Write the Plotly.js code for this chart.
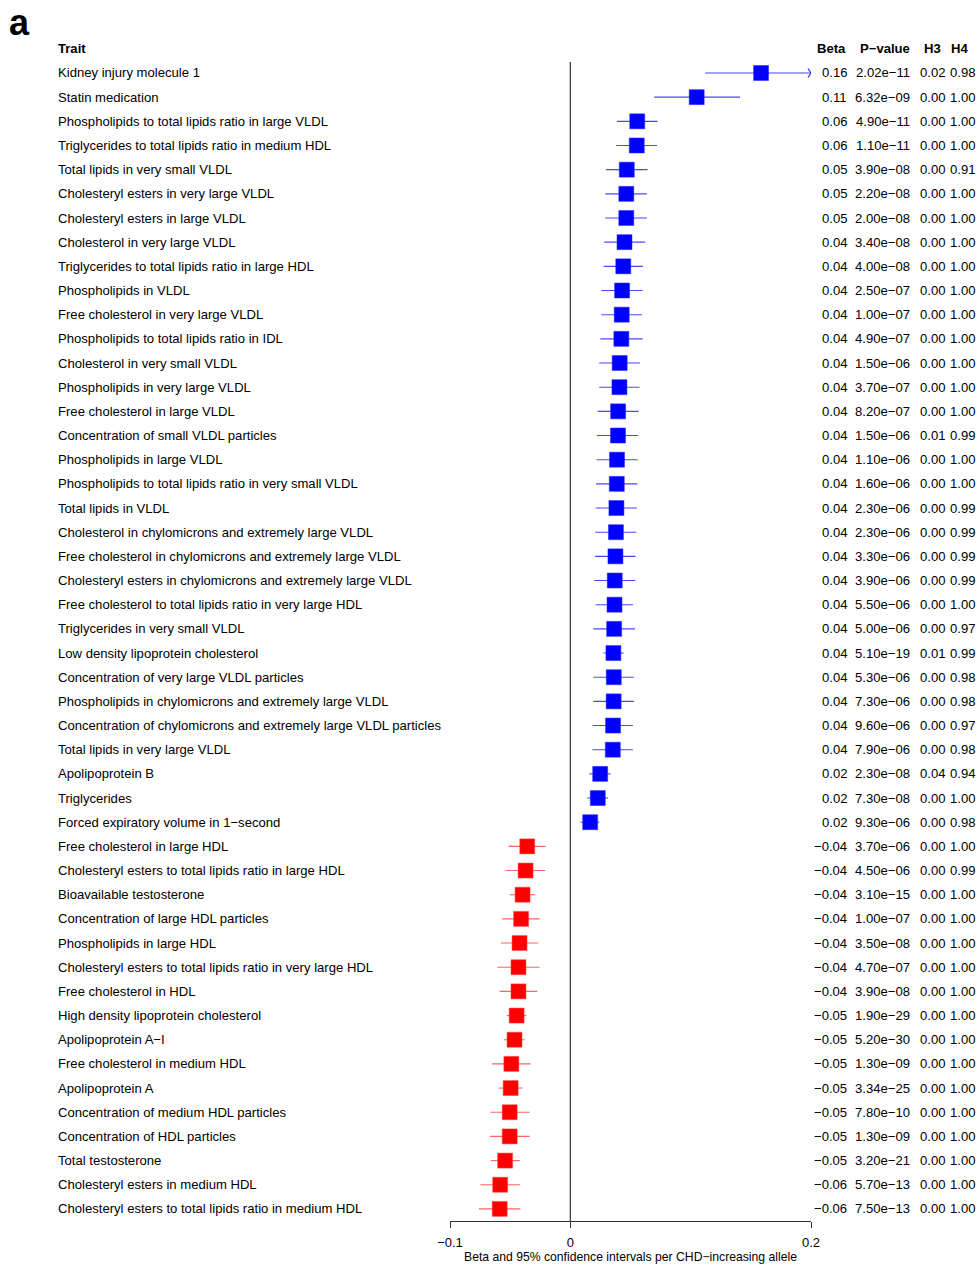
<!DOCTYPE html>
<html>
<head>
<meta charset="utf-8">
<script src="https://cdn.plot.ly/plotly-3.0.1.min.js"></script>
<style>
  html, body { margin: 0; padding: 0; background: #fff; }
  #chart { width: 979px; height: 1264px; }
</style>
</head>
<body>
<div id="chart"></div>
<script>
// ---------------- DATA ----------------
const traits = [
  "Kidney injury molecule 1",
  "Statin medication",
  "Phospholipids to total lipids ratio in large VLDL",
  "Triglycerides to total lipids ratio in medium HDL",
  "Total lipids in very small VLDL",
  "Cholesteryl esters in very large VLDL",
  "Cholesteryl esters in large VLDL",
  "Cholesterol in very large VLDL",
  "Triglycerides to total lipids ratio in large HDL",
  "Phospholipids in VLDL",
  "Free cholesterol in very large VLDL",
  "Phospholipids to total lipids ratio in IDL",
  "Cholesterol in very small VLDL",
  "Phospholipids in very large VLDL",
  "Free cholesterol in large VLDL",
  "Concentration of small VLDL particles",
  "Phospholipids in large VLDL",
  "Phospholipids to total lipids ratio in very small VLDL",
  "Total lipids in VLDL",
  "Cholesterol in chylomicrons and extremely large VLDL",
  "Free cholesterol in chylomicrons and extremely large VLDL",
  "Cholesteryl esters in chylomicrons and extremely large VLDL",
  "Free cholesterol to total lipids ratio in very large HDL",
  "Triglycerides in very small VLDL",
  "Low density lipoprotein cholesterol",
  "Concentration of very large VLDL particles",
  "Phospholipids in chylomicrons and extremely large VLDL",
  "Concentration of chylomicrons and extremely large VLDL particles",
  "Total lipids in very large VLDL",
  "Apolipoprotein B",
  "Triglycerides",
  "Forced expiratory volume in 1\u2212second",
  "Free cholesterol in large HDL",
  "Cholesteryl esters to total lipids ratio in large HDL",
  "Bioavailable testosterone",
  "Concentration of large HDL particles",
  "Phospholipids in large HDL",
  "Cholesteryl esters to total lipids ratio in very large HDL",
  "Free cholesterol in HDL",
  "High density lipoprotein cholesterol",
  "Apolipoprotein A\u2212I",
  "Free cholesterol in medium HDL",
  "Apolipoprotein A",
  "Concentration of medium HDL particles",
  "Concentration of HDL particles",
  "Total testosterone",
  "Cholesteryl esters in medium HDL",
  "Cholesteryl esters to total lipids ratio in medium HDL"
];

const beta = [
  0.1585, 0.105, 0.0556, 0.0552, 0.0469, 0.0465, 0.0465, 0.0450, 0.0440, 0.0430,
  0.0427, 0.0424, 0.0410, 0.0408, 0.0397, 0.0396, 0.0388, 0.0386, 0.0383, 0.0379,
  0.0375, 0.0369, 0.0367, 0.0364, 0.0358, 0.0361, 0.0360, 0.0355, 0.0353, 0.0248,
  0.0228, 0.0165,
  -0.0358, -0.0372, -0.0397, -0.0409, -0.0422, -0.0431, -0.0431, -0.0446, -0.0464,
  -0.0490, -0.0496, -0.0504, -0.0504, -0.0542, -0.0583, -0.0587
];
const lower = [
  0.112, 0.0697, 0.0387, 0.0380, 0.0296, 0.0290, 0.0290, 0.0282, 0.0277, 0.0257,
  0.0257, 0.0249, 0.0240, 0.0240, 0.0227, 0.0221, 0.0218, 0.0213, 0.0210, 0.0207,
  0.0205, 0.0199, 0.0210, 0.0191, 0.0277, 0.0191, 0.0191, 0.0185, 0.0183, 0.0158,
  0.0141, 0.0086,
  -0.0512, -0.0538, -0.0504, -0.0567, -0.0578, -0.0607, -0.0587, -0.0529, -0.0553,
  -0.0650, -0.0595, -0.0664, -0.0666, -0.0661, -0.0747, -0.0759
];
const upper = [
  0.205, 0.141, 0.0725, 0.0720, 0.0642, 0.0636, 0.0636, 0.0622, 0.0603, 0.0600,
  0.0595, 0.0600, 0.0580, 0.0575, 0.0567, 0.0564, 0.0559, 0.0556, 0.0553, 0.0548,
  0.0542, 0.0539, 0.0520, 0.0537, 0.0443, 0.0528, 0.0528, 0.0520, 0.0520, 0.0335,
  0.0313, 0.0240,
  -0.0206, -0.0209, -0.0292, -0.0255, -0.0266, -0.0255, -0.0275, -0.0366, -0.0381,
  -0.0330, -0.0398, -0.0340, -0.0338, -0.0420, -0.0418, -0.0415
];

const betaLabels = [
  "0.16","0.11","0.06","0.06","0.05","0.05","0.05","0.04","0.04","0.04",
  "0.04","0.04","0.04","0.04","0.04","0.04","0.04","0.04","0.04","0.04",
  "0.04","0.04","0.04","0.04","0.04","0.04","0.04","0.04","0.04","0.02",
  "0.02","0.02",
  "\u22120.04","\u22120.04","\u22120.04","\u22120.04","\u22120.04","\u22120.04","\u22120.04",
  "\u22120.05","\u22120.05","\u22120.05","\u22120.05","\u22120.05","\u22120.05","\u22120.05",
  "\u22120.06","\u22120.06"
];
const pLabels = [
  "2.02e\u221211","6.32e\u221209","4.90e\u221211","1.10e\u221211","3.90e\u221208",
  "2.20e\u221208","2.00e\u221208","3.40e\u221208","4.00e\u221208","2.50e\u221207",
  "1.00e\u221207","4.90e\u221207","1.50e\u221206","3.70e\u221207","8.20e\u221207",
  "1.50e\u221206","1.10e\u221206","1.60e\u221206","2.30e\u221206","2.30e\u221206",
  "3.30e\u221206","3.90e\u221206","5.50e\u221206","5.00e\u221206","5.10e\u221219",
  "5.30e\u221206","7.30e\u221206","9.60e\u221206","7.90e\u221206","2.30e\u221208",
  "7.30e\u221208","9.30e\u221206","3.70e\u221206","4.50e\u221206","3.10e\u221215",
  "1.00e\u221207","3.50e\u221208","4.70e\u221207","3.90e\u221208","1.90e\u221229",
  "5.20e\u221230","1.30e\u221209","3.34e\u221225","7.80e\u221210","1.30e\u221209",
  "3.20e\u221221","5.70e\u221213","7.50e\u221213"
];
const h3Labels = [
  "0.02","0.00","0.00","0.00","0.00","0.00","0.00","0.00","0.00","0.00",
  "0.00","0.00","0.00","0.00","0.00","0.01","0.00","0.00","0.00","0.00",
  "0.00","0.00","0.00","0.00","0.01","0.00","0.00","0.00","0.00","0.04",
  "0.00","0.00","0.00","0.00","0.00","0.00","0.00","0.00","0.00","0.00",
  "0.00","0.00","0.00","0.00","0.00","0.00","0.00","0.00"
];
const h4Labels = [
  "0.98","1.00","1.00","1.00","0.91","1.00","1.00","1.00","1.00","1.00",
  "1.00","1.00","1.00","1.00","1.00","0.99","1.00","1.00","0.99","0.99",
  "0.99","0.99","1.00","0.97","0.99","0.98","0.98","0.97","0.98","0.94",
  "1.00","0.98","1.00","0.99","1.00","1.00","1.00","1.00","1.00","1.00",
  "1.00","1.00","1.00","1.00","1.00","1.00","1.00","1.00"
];
const headers = ["Trait", "Beta", "P\u2212value", "H3", "H4"];
const xTicks = [-0.1, 0, 0.2];
const xTickLabels = ["\u22120.1", "0", "0.2"];
const xTitle = "Beta and 95% confidence intervals per CHD\u2212increasing allele";
const panelLabel = "a";

// ---------------- BUILD ----------------
const W = 979, H = 1264;
const FONT = "Liberation Sans, Arial, Helvetica, sans-serif";
const xMin = -0.1, xMax = 0.2;
const rows = traits.map((_, i) => i + 1);
const n = rows.length;

function px(p) { return p / W; }

const posIdx = [], negIdx = [];
beta.forEach((b, i) => (b >= 0 ? posIdx : negIdx).push(i));

function ciTrace(idx, col, lineCol) {
  return {
    type: "scatter", mode: "markers",
    x: idx.map(i => beta[i]),
    y: idx.map(i => rows[i]),
    marker: { symbol: "square", size: 15, color: col, line: { width: 0.6, color: lineCol } },
    error_x: {
      type: "data", symmetric: false,
      array: idx.map(i => upper[i] - beta[i]),
      arrayminus: idx.map(i => beta[i] - lower[i]),
      width: 0, thickness: 1.1, color: lineCol
    },
    hoverinfo: "skip", showlegend: false
  };
}

const traces = [
  ciTrace(posIdx, "#0000ff", "rgba(40,40,255,0.85)"),
  ciTrace(negIdx, "#ff0000", "rgba(255,70,70,0.85)")
];

// arrows where CI exceeds axis range (">" head, stem clipped by the plot edge)
const overIdx = rows.map((_, i) => i).filter(i => upper[i] > xMax);
traces.push({
  type: "scatter", mode: "markers",
  x: overIdx.map(() => xMax), y: overIdx.map(i => rows[i]),
  marker: { symbol: "y-right", size: 7.5, color: "#0000ff", line: { width: 1.2, color: "rgba(30,30,255,0.95)" } },
  cliponaxis: true, hoverinfo: "skip", showlegend: false
});

const fs = 13.1;
const annotations = [];
const colTrait = px(56);
const colBeta = px(849), colP = px(912), colH3 = px(947), colH4 = px(977);

function addText(x, y, text, anchor, bold) {
  annotations.push({
    xref: "paper", yref: "y", x: x, y: y, text: bold ? "<b>" + text + "</b>" : text,
    xanchor: anchor, yanchor: "middle", showarrow: false,
    font: { family: FONT, size: fs, color: "#000" }
  });
}
addText(colTrait, 0, headers[0], "left", true);
addText(px(831), 0, headers[1], "center", true);
addText(px(885), 0, headers[2], "center", true);
addText(px(932), 0, headers[3], "center", true);
addText(px(959), 0, headers[4], "center", true);

rows.forEach((r, i) => {
  addText(colTrait, r, traits[i], "left", false);
  addText(colBeta, r, betaLabels[i], "right", false);
  addText(colP, r, pLabels[i], "right", false);
  addText(colH3, r, h3Labels[i], "right", false);
  addText(colH4, r, h4Labels[i], "right", false);
});

annotations.push({
  xref: "paper", yref: "paper", x: px(7), y: 1.0, xanchor: "left", yanchor: "top",
  text: "<b>" + panelLabel + "</b>", showarrow: false,
  font: { family: FONT, size: 36, color: "#000" }
});

const layout = {
  width: W, height: H,
  margin: { l: 0, r: 0, t: 0, b: 43, pad: 0 },
  paper_bgcolor: "#fff", plot_bgcolor: "#fff",
  showlegend: false,
  xaxis: {
    domain: [px(450), px(811)],
    range: [xMin, xMax], autorange: false,
    showgrid: false, zeroline: false,
    showline: true, linecolor: "#333", linewidth: 1,
    ticks: "outside", ticklen: 6, tickwidth: 1, tickcolor: "#333",
    tickmode: "array", tickvals: xTicks, ticktext: xTickLabels,
    ticklabelstandoff: 3,
    tickfont: { family: FONT, size: 13, color: "#000" },
    title: { text: xTitle, font: { family: FONT, size: 12.2, color: "#000" }, standoff: 4 },
    fixedrange: true
  },
  yaxis: {
    range: [n + 0.5, -2.02], autorange: false,
    showgrid: false, zeroline: false, showline: false,
    showticklabels: false, ticks: "", fixedrange: true
  },
  shapes: [{
    type: "line", xref: "x", yref: "y", x0: 0, x1: 0, y0: 0.55, y1: n + 0.5,
    line: { color: "#333", width: 1.2 }, layer: "below"
  }],
  annotations: annotations
};

Plotly.newPlot("chart", traces, layout, { staticPlot: true, displayModeBar: false });
</script>
</body>
</html>
